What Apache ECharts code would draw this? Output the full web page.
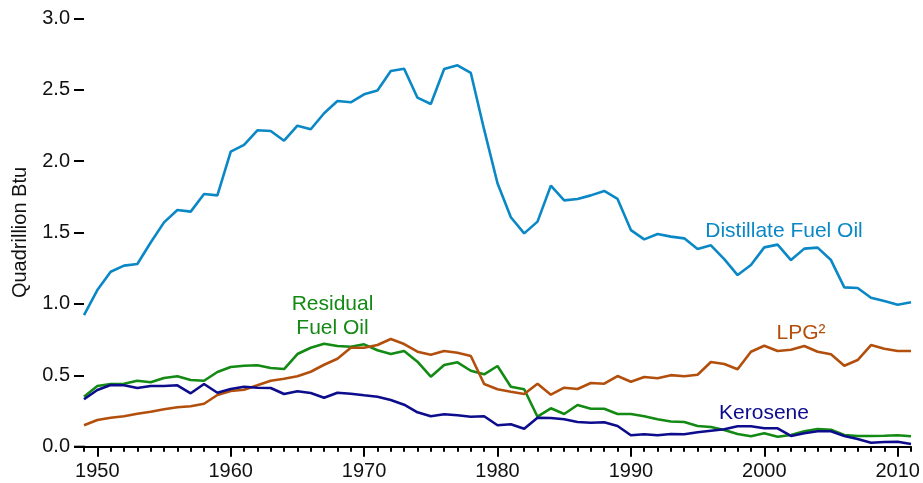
<!DOCTYPE html>
<html>
<head>
<meta charset="utf-8">
<script src="https://cdn.jsdelivr.net/npm/echarts@6/dist/echarts.min.js"></script>
<style>html,body{margin:0;padding:0;background:#fff}#c{width:923px;height:483px}</style>
</head>
<body>
<div id="c"></div>
<script>
const firstYear = 1949;
const lastYear = 2011;
const decadeTicks = [1950, 1960, 1970, 1980, 1990, 2000, 2010];
const yTicks = [0, 0.5, 1.0, 1.5, 2.0, 2.5, 3.0];

const distillate = [
  0.922, 1.097, 1.225, 1.268, 1.279, 1.430, 1.571, 1.658, 1.646, 1.770, 1.760,
  2.066, 2.113, 2.216, 2.211, 2.143, 2.248, 2.223, 2.335, 2.421, 2.412,
  2.468, 2.495, 2.631, 2.647, 2.444, 2.400, 2.645, 2.671, 2.617, 2.220,
  1.845, 1.607, 1.494, 1.576, 1.828, 1.725, 1.735, 1.760, 1.791, 1.735,
  1.517, 1.452, 1.489, 1.471, 1.459, 1.384, 1.410, 1.314, 1.202, 1.272,
  1.396, 1.415, 1.307, 1.387, 1.394, 1.307, 1.116, 1.111, 1.043, 1.020,
  0.994, 1.011
];
const residual = [
  0.350, 0.425, 0.439, 0.441, 0.462, 0.451, 0.481, 0.493, 0.467, 0.462, 0.523,
  0.558, 0.567, 0.570, 0.551, 0.544, 0.649, 0.693, 0.721, 0.705, 0.700,
  0.717, 0.675, 0.649, 0.670, 0.595, 0.490, 0.572, 0.591, 0.532, 0.507,
  0.565, 0.420, 0.402, 0.210, 0.269, 0.229, 0.292, 0.266, 0.266, 0.229,
  0.229, 0.213, 0.192, 0.176, 0.173, 0.145, 0.138, 0.117, 0.089, 0.073,
  0.094, 0.070, 0.082, 0.108, 0.124, 0.119, 0.082, 0.075, 0.075, 0.077,
  0.080, 0.073
];
const lpg = [
  0.150, 0.187, 0.203, 0.213, 0.231, 0.245, 0.262, 0.276, 0.283, 0.301, 0.362,
  0.390, 0.399, 0.430, 0.462, 0.476, 0.493, 0.525, 0.574, 0.616, 0.693,
  0.693, 0.712, 0.754, 0.719, 0.665, 0.644, 0.670, 0.658, 0.635, 0.439,
  0.402, 0.385, 0.369, 0.441, 0.364, 0.413, 0.404, 0.446, 0.441, 0.495,
  0.455, 0.488, 0.479, 0.501, 0.493, 0.504, 0.593, 0.579, 0.542, 0.665,
  0.707, 0.670, 0.679, 0.705, 0.665, 0.647, 0.567, 0.607, 0.712, 0.686,
  0.670, 0.670
];
const kerosene = [
  0.332, 0.397, 0.432, 0.430, 0.411, 0.425, 0.425, 0.430, 0.374, 0.439, 0.378,
  0.404, 0.420, 0.413, 0.411, 0.369, 0.388, 0.376, 0.343, 0.378, 0.371,
  0.360, 0.350, 0.327, 0.294, 0.241, 0.213, 0.227, 0.220, 0.210, 0.213,
  0.150, 0.157, 0.126, 0.203, 0.201, 0.192, 0.173, 0.168, 0.171, 0.145,
  0.080, 0.087, 0.080, 0.089, 0.087, 0.101, 0.112, 0.122, 0.143, 0.143,
  0.129, 0.129, 0.075, 0.094, 0.108, 0.108, 0.075, 0.054, 0.028, 0.033,
  0.035, 0.019
];

const seriesNames = ['Distillate Fuel Oil', 'Residual Fuel Oil', 'LPG²', 'Kerosene'];

const FONT = '"Liberation Sans", Arial, sans-serif';
const COL = { dist: '#0a88c6', resid: '#138a13', lpg: '#b24f0c', kero: '#0c0c8c' };

function pairs(vals) {
  return vals.map((v, i) => [firstYear + i, v]);
}

const chart = echarts.init(document.getElementById('c'), null, { renderer: 'canvas' });

function mkSeries(name, vals, color) {
  return {
    name: name, type: 'line', xAxisIndex: 0, yAxisIndex: 0,
    data: pairs(vals), showSymbol: false, symbol: 'none',
    lineStyle: { color: color, width: 2.6 }, itemStyle: { color: color },
    animation: false
  };
}

const option = {
  animation: false,
  backgroundColor: '#ffffff',
  grid: { left: 84, right: 12, top: 18.3, bottom: 36.3, containLabel: false },
  xAxis: [
    {
      type: 'value', min: firstYear, max: lastYear, interval: 1,
      axisLine: { show: true, lineStyle: { color: '#000', width: 2 } },
      axisTick: { show: true, length: 5, inside: false, lineStyle: { color: '#000', width: 2 } },
      axisLabel: { show: false },
      splitLine: { show: false }
    },
    {
      type: 'value', min: firstYear, max: lastYear, position: 'bottom',
      axisLine: { show: false },
      axisTick: { show: true, length: 10, customValues: decadeTicks, lineStyle: { color: '#000', width: 2 } },
      axisLabel: { show: true, customValues: decadeTicks, fontSize: 20, fontFamily: FONT, color: '#111', margin: 15,
        formatter: v => String(v) },
      splitLine: { show: false }
    }
  ],
  yAxis: {
    type: 'value', min: 0, max: 3, interval: 0.5,
    name: 'Quadrillion Btu', nameLocation: 'middle', nameGap: 54,
    nameTextStyle: { fontSize: 20, fontFamily: FONT, color: '#111' },
    axisLine: { show: false },
    axisTick: { show: true, length: 10, lineStyle: { color: '#000', width: 2 } },
    axisLabel: { fontSize: 20, fontFamily: FONT, color: '#111', margin: 14,
      formatter: v => yTicks.indexOf(v) >= 0 ? v.toFixed(1) : '' },
    splitLine: { show: false }
  },
  series: [
    mkSeries(seriesNames[0], distillate, COL.dist),
    mkSeries(seriesNames[1], residual, COL.resid),
    mkSeries(seriesNames[2], lpg, COL.lpg),
    mkSeries(seriesNames[3], kerosene, COL.kero)
  ],
  graphic: [
    { type: 'line', shape: { x1: 74, y1: 446.7, x2: 85, y2: 446.7 }, style: { stroke: '#000', lineWidth: 2 } },
    { type: 'text', x: 784, y: 231, style: { text: 'Distillate Fuel Oil', fill: COL.dist, font: '21px ' + FONT, textAlign: 'center', textVerticalAlign: 'middle' } },
    { type: 'text', x: 801, y: 333, style: { text: 'LPG²', fill: COL.lpg, font: '21px ' + FONT, textAlign: 'center', textVerticalAlign: 'middle' } },
    { type: 'text', x: 764, y: 413, style: { text: 'Kerosene', fill: COL.kero, font: '21px ' + FONT, textAlign: 'center', textVerticalAlign: 'middle' } },
    { type: 'text', x: 332.5, y: 304, style: { text: 'Residual', fill: COL.resid, font: '21px ' + FONT, textAlign: 'center', textVerticalAlign: 'middle' } },
    { type: 'text', x: 332.5, y: 328, style: { text: 'Fuel Oil', fill: COL.resid, font: '21px ' + FONT, textAlign: 'center', textVerticalAlign: 'middle' } }
  ]
};
chart.setOption(option);
</script>
</body>
</html>
